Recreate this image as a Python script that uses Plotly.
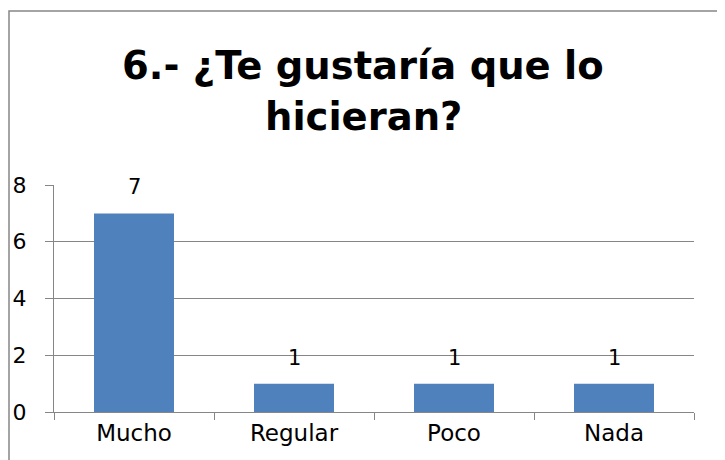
import plotly.graph_objects as go

categorias = ['Mucho', 'Regular', 'Poco', 'Nada']
respuestas = [7, 1, 1, 1]
ticks_y = [0, 2, 4, 6, 8]
titulo = ['6.- ¿Te gustaría que lo', 'hicieran?']

fuente = 'Century Gothic, DejaVu Sans, sans-serif'
d = 7  # desplazamiento de la pagina

L, R, T, B = 53 - d, 693 - d, 184 - d, 411 - d
W, H = R - L, B - T

fig = go.Figure(go.Bar(
    x=categorias, y=respuestas,
    marker=dict(color='#4F81BD', line=dict(width=0)),
    cliponaxis=False,
))

fig.update_layout(
    width=725, height=460,
    margin=dict(l=L, r=725 - R, t=T, b=460 - B, autoexpand=False),
    paper_bgcolor='white', plot_bgcolor='white',
    bargap=0.5, showlegend=False,
    font=dict(family=fuente, color='black'),
)

fig.update_yaxes(range=[0, 8], tickvals=ticks_y, showgrid=True, gridcolor='#868686', gridwidth=1,
                 showline=True, linecolor='#868686', ticks='outside', ticklen=8, tickcolor='#868686',
                 tickfont=dict(family=fuente, size=22), zeroline=False, automargin=False,
                 ticklabelstandoff=14)
fig.update_xaxes(showline=True, linecolor='#868686', ticks='outside', ticklen=7, tickcolor='#868686',
                 tickson='boundaries', tickfont=dict(family=fuente, size=23), automargin=False)

# etiquetas de datos
for c, v in zip(categorias, respuestas):
    fig.add_annotation(x=c, y=v, text=str(v), showarrow=False, yanchor='bottom', yshift=12,
                       font=dict(family=fuente, size=21, color='black'))

# titulo en dos lineas
for linea, ypx in zip(titulo, [64, 115]):
    fig.add_annotation(text='<b>' + linea + '</b>', xref='paper', yref='paper',
                       x=(362 - d - L) / W, y=(B - (ypx - d)) / H, xanchor='center', yanchor='middle',
                       showarrow=False, font=dict(family=fuente, size=38.5, color='black'))

# borde del area del grafico
fig.add_shape(type='rect', xref='paper', yref='paper',
              x0=(8 - d - L) / W, x1=(717 - d - L) / W, y0=-0.5, y1=(B - (10 - d)) / H,
              line=dict(color='#868686', width=1.5), fillcolor='rgba(0,0,0,0)', layer='below')

fig.write_html('out.html')
